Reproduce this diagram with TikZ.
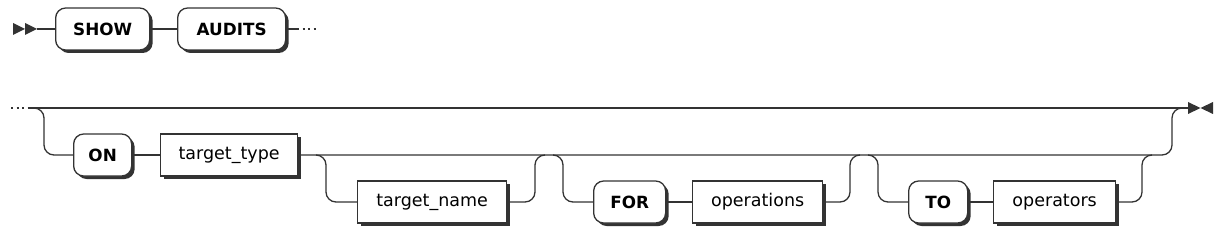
\documentclass[tikz,border=0pt]{standalone}
\usepackage{fontspec}
\setmainfont{DejaVu Sans}
\usetikzlibrary{shadows}
\definecolor{ln}{HTML}{333333}
\begin{document}
\begin{tikzpicture}[x=1pt,y=-1pt,
  wire/.style={draw=ln, line width=1.3pt},
  box/.style={draw=ln, line width=1.3pt, fill=white, minimum height=42pt, inner sep=0pt, anchor=west,
    font=\fontsize{17.5}{20}\selectfont,
    drop shadow={shadow xshift=3pt, shadow yshift=-3pt, fill=ln, opacity=1}},
  term/.style={box, rounded corners=10pt, font=\fontsize{16.8}{20}\selectfont\bfseries},
  nonterm/.style={box},
  marker/.style={fill=ln, draw=none}]
\useasboundingbox (0,0) rectangle (1222,243);

% row 1
\fill[ln] (13,23) -- (25,29) -- (13,35) -- cycle;
\fill[ln] (25,23) -- (37,29) -- (25,35) -- cycle;
\coordinate (start) at (37,29);
\node[term, minimum width=94pt] (show) at (55,29) {SHOW};
\node[term, minimum width=108pt] (audits) at (177,29) {AUDITS};
\coordinate (r1e) at (297,29);
\coordinate (r1d) at (317,29);
\draw[wire] (start) -- (show.west);
\draw[wire] (show.east) -- (audits.west);
\draw[wire] (audits.east) -- (r1e);
\draw[wire, dash pattern=on 2pt off 3.5pt] (r1e) -- (r1d);

% row 2
\coordinate (r2d) at (11,108);
\coordinate (r2s) at (30,108);
\coordinate (r2e) at (1188,108);
\fill[ln] (1188,102) -- (1200.5,108) -- (1188,114) -- cycle;
\fill[ln] (1213,102) -- (1200.5,108) -- (1213,114) -- cycle;
\draw[wire, dash pattern=on 2pt off 3.5pt] (r2d) -- (r2s);
\draw[wire] (r2s) -- (r2e);

\node[term, minimum width=58pt] (on) at (73,155) {ON};
\node[nonterm, minimum width=137pt] (ttype) at (160,155) {target\_type};
\node[nonterm, minimum width=149pt] (tname) at (357,202) {target\_name};
\node[term, minimum width=72pt] (for) at (593,202) {FOR};
\node[nonterm, minimum width=130pt] (ops) at (692,202) {operations};
\node[term, minimum width=59pt] (to) at (908,202) {TO};
\node[nonterm, minimum width=122pt] (opr) at (993,202) {operators};

\draw[wire, rounded corners=10pt] (34,108) -- (44,108) -- (44,155) -- (on.west);
\draw[wire] (on.east) -- (ttype.west);
\draw[wire, rounded corners=10pt] (ttype.east) -- (1172,155) -- (1172,108) -- (1182,108);

\draw[wire, rounded corners=10pt] (316,155) -- (326,155) -- (326,202) -- (tname.west);
\draw[wire, rounded corners=10pt] (tname.east) -- (535,202) -- (535,155) -- (545,155);

\draw[wire, rounded corners=10pt] (553,155) -- (563,155) -- (563,202) -- (for.west);
\draw[wire] (for.east) -- (ops.west);
\draw[wire, rounded corners=10pt] (ops.east) -- (850,202) -- (850,155) -- (860,155);

\draw[wire, rounded corners=10pt] (868,155) -- (878,155) -- (878,202) -- (to.west);
\draw[wire] (to.east) -- (opr.west);
\draw[wire, rounded corners=10pt] (opr.east) -- (1142,202) -- (1142,155) -- (1152,155);
\end{tikzpicture}
\end{document}
